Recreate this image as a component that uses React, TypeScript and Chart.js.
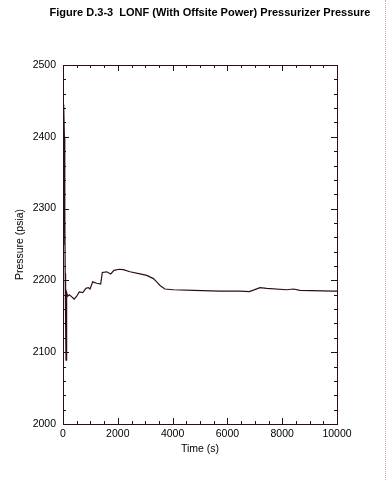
import React, { useEffect, useRef } from "react";
import { Chart, registerables } from "chart.js";

Chart.register(...registerables);

const titleText = "Figure D.3-3  LONF (With Offsite Power) Pressurizer Pressure";
const xLabel = "Time (s)";
const yLabel = "Pressure (psia)";

const xMin = 0;
const xMax = 10000;
const xStep = 2000;
const xMinor = 500;
const yMin = 2000;
const yMax = 2500;
const yStep = 100;
const yMinor = 20;

const times = [
  0, 15, 35, 50, 65, 80, 95, 110, 125, 140, 170, 230, 320, 410, 500, 595, 720,
  840, 925, 985, 1085, 1230, 1375, 1435, 1595, 1740, 1860, 2055, 2200, 2445,
  2810, 3055, 3300, 3420, 3540, 3720, 4030, 4760, 5730, 6460, 6800, 6950, 7190,
  7435, 8165, 8410, 8650, 9870, 10000,
];
const pressures = [
  2250, 2340, 2445, 2400, 2300, 2210, 2140, 2089, 2150, 2183, 2178, 2180, 2177,
  2174, 2178, 2184, 2183, 2189, 2190, 2188, 2198, 2196, 2195, 2211, 2212, 2209,
  2214, 2215.5, 2215, 2212, 2209, 2207, 2202.5, 2198, 2193, 2188, 2187, 2186,
  2185, 2185, 2184.5, 2186.5, 2190, 2189, 2187, 2188, 2186, 2185, 2185,
];

const ink = "#2b0d1c";
const fontFamily = "'Liberation Sans', Arial, sans-serif";

const framePlugin = {
  id: "frameTicks",
  afterDraw(chart: any) {
    const { ctx, chartArea } = chart;
    const { left, right, top, bottom } = chartArea;
    const x = chart.scales.x;
    const y = chart.scales.y;
    ctx.save();
    ctx.strokeStyle = ink;
    ctx.lineWidth = 1;
    ctx.strokeRect(Math.round(left) + 0.5, Math.round(top) + 0.5, Math.round(right - left), Math.round(bottom - top));
    ctx.beginPath();
    for (let v = xMin; v <= xMax; v += xMinor) {
      const px = Math.round(x.getPixelForValue(v)) + 0.5;
      const len = v % xStep === 0 ? 6 : 3;
      ctx.moveTo(px, bottom);
      ctx.lineTo(px, bottom - len);
      ctx.moveTo(px, top);
      ctx.lineTo(px, top + len);
    }
    for (let v = yMin; v <= yMax; v += yMinor) {
      const py = Math.round(y.getPixelForValue(v)) + 0.5;
      const len = v % yStep === 0 ? 6 : 3;
      ctx.moveTo(left, py);
      ctx.lineTo(left + len, py);
      ctx.moveTo(right, py);
      ctx.lineTo(right - len, py);
    }
    ctx.stroke();
    ctx.fillStyle = "#000";
    ctx.font = `bold 11px ${fontFamily}`;
    ctx.textAlign = "center";
    ctx.textBaseline = "middle";
    ctx.fillText(titleText, 210, 13);
    ctx.restore();
  },
};

export default function App() {
  const ref = useRef<HTMLCanvasElement>(null);
  useEffect(() => {
    if (!ref.current) return;
    const chart = new Chart(ref.current, {
      type: "line",
      data: {
        datasets: [
          {
            data: times.map((t, i) => ({ x: t, y: pressures[i] })),
            borderColor: ink,
            borderWidth: 1.2,
            pointRadius: 0,
            fill: false,
            tension: 0,
          },
        ],
      },
      options: {
        animation: false,
        responsive: false,
        layout: { padding: { top: 65, right: 51, left: 0, bottom: 0 } },
        plugins: { legend: { display: false }, tooltip: { enabled: false }, title: { display: false } },
        scales: {
          x: {
            type: "linear",
            min: xMin,
            max: xMax,
            ticks: {
              stepSize: xStep,
              color: "#000",
              font: { family: fontFamily, size: 10.5 },
              padding: 4,
              maxRotation: 0,
              callback: (v: any) => String(v),
            },
            grid: { display: false, drawTicks: false },
            border: { display: false },
            title: { display: true, text: xLabel, color: "#000", font: { family: fontFamily, size: 10.5 }, padding: { top: 0, bottom: 25 } },
            afterFit(s: any) {
              s.height = 56;
            },
          },
          y: {
            type: "linear",
            min: yMin,
            max: yMax,
            ticks: {
              stepSize: yStep,
              color: "#000",
              font: { family: fontFamily, size: 10.5 },
              padding: 7,
              callback: (v: any) => String(v),
            },
            grid: { display: false, drawTicks: false },
            border: { display: false },
            title: { display: true, text: yLabel, color: "#000", font: { family: fontFamily, size: 10.5 }, padding: { top: 14, bottom: 0 } },
            afterFit(s: any) {
              s.width = 63;
            },
          },
        },
      },
      plugins: [framePlugin],
    });
    return () => chart.destroy();
  }, []);
  return (
    <div style={{ position: "absolute", left: 0, top: 0, width: 388, height: 480, background: "#fff" }}>
      <canvas ref={ref} width={388} height={480} style={{ display: "block" }} />
      <div style={{ position: "absolute", left: 385, top: 0, width: 0, height: 480, borderLeft: "1px dotted #c9a7b6" }} />
    </div>
  );
}
